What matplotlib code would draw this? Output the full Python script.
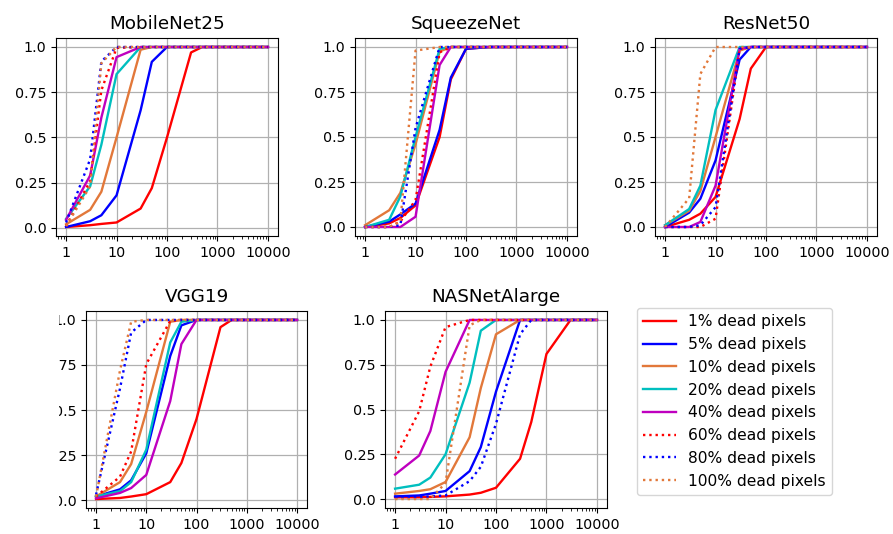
import matplotlib
matplotlib.use("Agg")
import matplotlib.pyplot as plt
from matplotlib.patches import Rectangle
from matplotlib.ticker import NullFormatter

# ---------------- data ----------------
x_pixels = [1, 3, 5, 10, 30, 50, 100, 300, 500, 1000, 3000, 5000, 10000]

series_labels = ["1% dead pixels", "5% dead pixels", "10% dead pixels", "20% dead pixels",
                 "40% dead pixels", "60% dead pixels", "80% dead pixels", "100% dead pixels"]

mobilenet25 = [
    [0.005, 0.015, 0.022, 0.03, 0.107, 0.22, 0.50, 0.97, 1, 1, 1, 1, 1],
    [0.005, 0.037, 0.07, 0.18, 0.65, 0.918, 1, 1, 1, 1, 1, 1, 1],
    [0.02, 0.10, 0.20, 0.50, 0.985, 1, 1, 1, 1, 1, 1, 1, 1],
    [0.05, 0.23, 0.46, 0.85, 1, 1, 1, 1, 1, 1, 1, 1, 1],
    [0.045, 0.29, 0.61, 0.944, 1, 1, 1, 1, 1, 1, 1, 1, 1],
    [0.01, 0.26, 0.76, 0.995, 1, 1, 1, 1, 1, 1, 1, 1, 1],
    [0.03, 0.38, 0.92, 1, 1, 1, 1, 1, 1, 1, 1, 1, 1],
    [0.01, 0.23, 0.91, 1, 1, 1, 1, 1, 1, 1, 1, 1, 1],
]

squeezenet = [
    [0, 0.02, 0.05, 0.12, 0.50, 0.82, 0.99, 1, 1, 1, 1, 1, 1],
    [0, 0.03, 0.07, 0.13, 0.54, 0.83, 0.99, 1, 1, 1, 1, 1, 1],
    [0.01, 0.093, 0.19, 0.46, 0.975, 1, 1, 1, 1, 1, 1, 1, 1],
    [0, 0.04, 0.17, 0.50, 0.99, 1, 1, 1, 1, 1, 1, 1, 1],
    [0, 0, 0, 0.057, 0.90, 1, 1, 1, 1, 1, 1, 1, 1],
    [0, 0, 0.03, 0.15, 0.97, 1, 1, 1, 1, 1, 1, 1, 1],
    [0, 0, 0.01, 0.55, 1, 1, 1, 1, 1, 1, 1, 1, 1],
    [0, 0, 0.03, 0.98, 1, 1, 1, 1, 1, 1, 1, 1, 1],
]

resnet50 = [
    [0, 0.04, 0.074, 0.167, 0.60, 0.88, 1, 1, 1, 1, 1, 1, 1],
    [0, 0.08, 0.157, 0.37, 0.93, 1, 1, 1, 1, 1, 1, 1, 1],
    [0.01, 0.09, 0.20, 0.50, 0.98, 1, 1, 1, 1, 1, 1, 1, 1],
    [0.01, 0.10, 0.23, 0.65, 1, 1, 1, 1, 1, 1, 1, 1, 1],
    [0, 0, 0.028, 0.23, 0.99, 1, 1, 1, 1, 1, 1, 1, 1],
    [0, 0, 0, 0.046, 0.99, 1, 1, 1, 1, 1, 1, 1, 1],
    [0, 0, 0.01, 0.11, 0.99, 1, 1, 1, 1, 1, 1, 1, 1],
    [0, 0.16, 0.85, 1, 1, 1, 1, 1, 1, 1, 1, 1, 1],
]

vgg19 = [
    [0.006, 0.012, 0.02, 0.033, 0.10, 0.206, 0.45, 0.96, 1, 1, 1, 1, 1],
    [0.02, 0.06, 0.11, 0.26, 0.80, 0.97, 1, 1, 1, 1, 1, 1, 1],
    [0.02, 0.10, 0.20, 0.49, 0.99, 1, 1, 1, 1, 1, 1, 1, 1],
    [0.02, 0.05, 0.10, 0.28, 0.875, 0.99, 1, 1, 1, 1, 1, 1, 1],
    [0.01, 0.04, 0.067, 0.14, 0.55, 0.866, 1, 1, 1, 1, 1, 1, 1],
    [0.02, 0.13, 0.27, 0.755, 0.995, 1, 1, 1, 1, 1, 1, 1, 1],
    [0.03, 0.62, 0.93, 1, 1, 1, 1, 1, 1, 1, 1, 1, 1],
    [0.02, 0.72, 0.99, 1, 1, 1, 1, 1, 1, 1, 1, 1, 1],
]

nasnetalarge = [
    [0.01, 0.01, 0.012, 0.015, 0.025, 0.035, 0.063, 0.225, 0.43, 0.81, 1, 1, 1],
    [0.015, 0.02, 0.03, 0.045, 0.156, 0.29, 0.60, 1, 1, 1, 1, 1, 1],
    [0.03, 0.045, 0.055, 0.095, 0.345, 0.62, 0.92, 1, 1, 1, 1, 1, 1],
    [0.058, 0.08, 0.12, 0.25, 0.65, 0.94, 1, 1, 1, 1, 1, 1, 1],
    [0.137, 0.243, 0.38, 0.71, 1, 1, 1, 1, 1, 1, 1, 1, 1],
    [0.225, 0.49, 0.74, 0.96, 1, 1, 1, 1, 1, 1, 1, 1, 1],
    [0.01, 0.01, 0.015, 0.02, 0.10, 0.18, 0.42, 0.92, 1, 1, 1, 1, 1],
    [0, 0, 0, 0.09, 0.97, 1, 1, 1, 1, 1, 1, 1, 1],
]

model_names = ["MobileNet25", "SqueezeNet", "ResNet50", "VGG19", "NASNetAlarge"]
model_data = [mobilenet25, squeezenet, resnet50, vgg19, nasnetalarge]

x_tick_vals = [1, 10, 100, 1000, 10000]
x_tick_labels = ["1", "10", "100", "1000", "10000"]
y_tick_vals = [0, 0.25, 0.5, 0.75, 1.0]
y_tick_labels = ["0.0", "0.25", "0.5", "0.75", "1.0"]

# ---------------- style ----------------
colors = ["#ff0000", "#0000ff", "#e2783a", "#00bfbf", "#bf00bf", "#ff0000", "#0000ff", "#e2783a"]
styles = ["-", "-", "-", "-", "-", ":", ":", ":"]

plt.rcParams["font.family"] = ["DejaVu Sans"]
plt.rcParams["font.size"] = 10.3

W, H = 893, 534
fig = plt.figure(figsize=(W / 100, H / 100), dpi=100)

def px_axes(left, top, right, bottom):
    return fig.add_axes([left / W, 1 - bottom / H, (right - left) / W, (bottom - top) / H])

positions = [
    (56, 38, 278, 236),
    (355, 38, 577, 236),
    (655, 38, 877, 236),
    (86, 311, 307, 508),
    (385, 311, 607, 508),
]

handles = []
for name, data, pos in zip(model_names, model_data, positions):
    ax = px_axes(*pos)
    lines = []
    for vals, c, ls, lab in zip(data, colors, styles, series_labels):
        ln, = ax.plot(x_pixels, vals, color=c, linestyle=ls, linewidth=1.7, label=lab)
        lines.append(ln)
    if not handles:
        handles = lines
    ax.set_xscale("log")
    ax.set_xticks(x_tick_vals)
    ax.set_xticklabels(x_tick_labels)
    ax.xaxis.set_minor_formatter(NullFormatter())
    ax.set_yticks(y_tick_vals)
    ax.set_yticklabels(y_tick_labels)
    ax.grid(True, which="major", color="#b0b0b0", linewidth=0.9)
    ax.set_axisbelow(True)
    ax.set_title(name, fontsize=13.2, pad=6.5)
    ax.tick_params(labelsize=10.3)

fig.legend(handles=handles, labels=series_labels, loc="upper left",
           bbox_to_anchor=(637 / W, 1 - 308 / H), borderaxespad=0,
           fontsize=11.2, handlelength=2.1, framealpha=0.8, edgecolor="#cccccc")

# the reference has the left part of the VGG19 tick labels cut away
fig.patches.append(Rectangle((0, 1 - 515 / H), 59 / W, 215 / H, transform=fig.transFigure,
                             facecolor="white", edgecolor="none", zorder=10))

fig.savefig("out.png", dpi=100)
